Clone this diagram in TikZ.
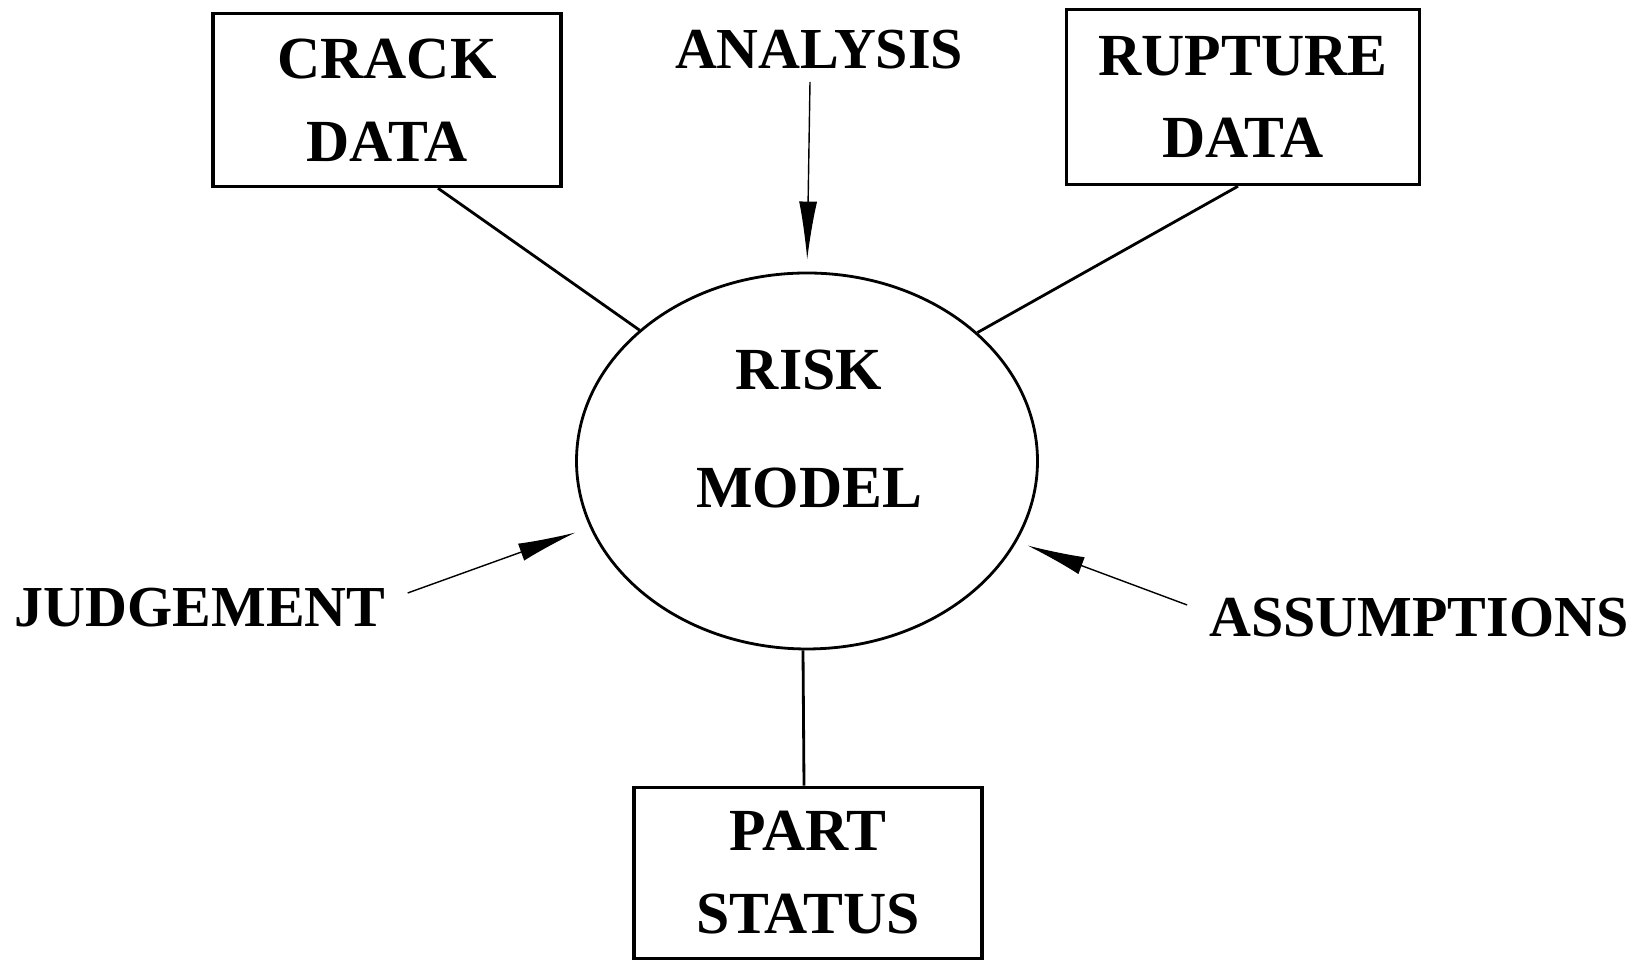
\documentclass[tikz,border=0pt]{standalone}
\usepackage{fontspec}
\setmainfont{Liberation Serif}
\usetikzlibrary{shapes.geometric}
\usetikzlibrary{arrows.meta}
\usetikzlibrary{positioning}

\tikzset{
  databox/.style={rectangle,draw,line width=1pt,align=center,
    font=\bfseries\fontsize{17}{23.6}\selectfont},
  plaintext/.style={font=\bfseries\fontsize{16.5}{20}\selectfont},
  feed/.style={thin,-{Latex[length=5.8mm,width=1.8mm]}},
  link/.style={line width=0.8pt}
}

\begin{document}
\begin{tikzpicture}
\useasboundingbox[fill=white] (0,0) rectangle (16.36,9.62);
\node[databox,minimum width=3.48cm,minimum height=1.73cm] (crack) at (3.87,8.62) {CRACK\\DATA};
\node[databox,minimum width=3.53cm,minimum height=1.75cm] (rupture) at (12.43,8.65) {RUPTURE\\DATA};
\node[databox,minimum width=3.48cm,minimum height=1.71cm] (part) at (8.08,0.89) {PART\\STATUS};
\node[ellipse,draw,line width=0.8pt,minimum width=4.61cm,minimum height=3.76cm] (risk) at (8.07,5.01) {};
\node[align=center,font=\bfseries\fontsize{17}{33.5}\selectfont] (risktext) at (8.09,5.33) {RISK\\MODEL};

\node[plaintext] (analysis) at (8.19,9.12) {ANALYSIS};
\node[plaintext] (judgement) at (2.00,3.54) {JUDGEMENT};
\node[plaintext] (assumptions) at (14.19,3.44) {ASSUMPTIONS};

\draw[link] ([xshift=5.1mm]crack.south) -- (risk.142);
\draw[link] ([xshift=-0.5mm]rupture.south) -- (risk.37);
\draw[link] ([xshift=-0.4mm]risk.south) -- ([xshift=-0.4mm]part.north);

\draw[feed,shorten >=1.2mm] ([xshift=-0.9mm]analysis.south) -- (risk.north);
\draw[feed,shorten >=1.5mm] ([xshift=1mm,yshift=1.5mm]judgement.east) -- (risk.197);
\draw[feed,shorten >=1.1mm] ([xshift=-1mm,yshift=1.3mm]assumptions.west) -- (risk.339);
\end{tikzpicture}
\end{document}
